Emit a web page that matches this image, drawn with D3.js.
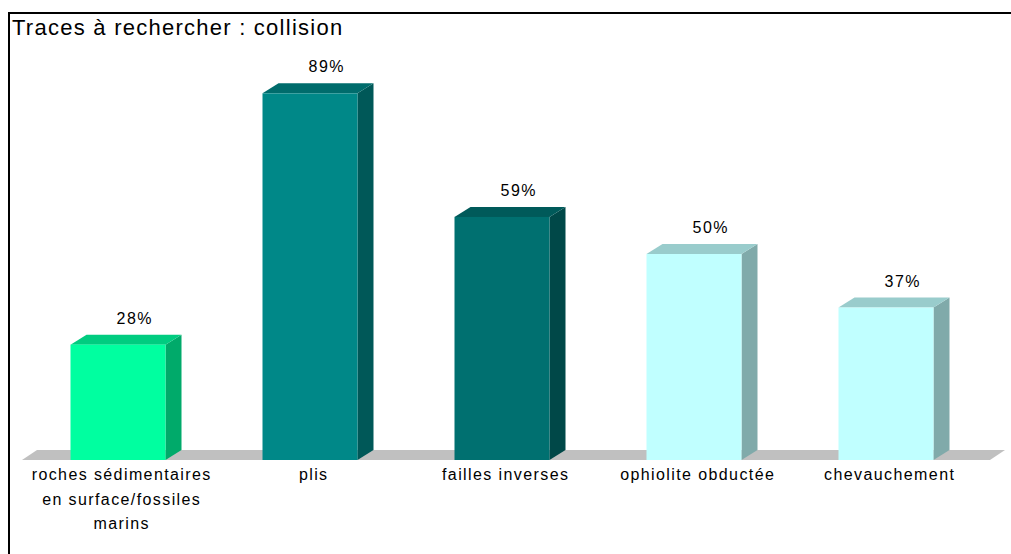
<!DOCTYPE html>
<html><head><meta charset="utf-8">
<script src="https://cdn.jsdelivr.net/npm/d3@7"></script>
<style>body{margin:0;background:#fff;} svg{display:block;}</style>
</head><body>
<svg id="chart" width="1011" height="554"></svg>
<script>
const title = "Traces à rechercher : collision";
const categories = [
  ["roches sédimentaires", "en surface/fossiles", "marins"],
  ["plis"],
  ["failles inverses"],
  ["ophiolite obductée"],
  ["chevauchement"]
];
const values = [28, 89, 59, 50, 37];
const valueLabels = ["28%", "89%", "59%", "50%", "37%"];
const frontColors = ["#00ffa0", "#008888", "#007070", "#c0ffff", "#c0ffff"];
const topColors   = ["#00cc80", "#006c6c", "#005a5a", "#99cccc", "#99cccc"];
const sideColors  = ["#00aa6a", "#005858", "#004848", "#80aaaa", "#80aaaa"];

const svg = d3.select("#chart");
const font = "Arial, 'Liberation Sans', sans-serif";

const x = d3.scaleBand().domain(d3.range(values.length)).range([22, 982]).paddingInner(0).paddingOuter(0);
const y = d3.scaleLinear().domain([0, 100]).range([460, 48]);
const barW = 95, dx = 16, dy = 10;
const ls = 1.4;

// frame
svg.append("rect").attr("x", 9).attr("y", 13).attr("width", 1100).attr("height", 700)
  .attr("fill", "none").attr("stroke", "#000").attr("stroke-width", 2);

svg.append("text").attr("x", 12).attr("y", 35).attr("font-family", font).attr("font-size", 22)
  .attr("letter-spacing", 1.25).attr("fill", "#000").text(title);

// floor
const fy = y(0);
svg.append("path")
  .attr("d", `M22,${fy} L990,${fy} L1005,${fy - dy} L${22 + 15},${fy - dy} Z`)
  .attr("fill", "#c0c0c0");

const g = svg.append("g").selectAll("g").data(values).join("g");
g.each(function(v, i) {
  const s = d3.select(this);
  const cx = x(i) + x.bandwidth() / 2;
  const x0 = cx - barW / 2, x1 = cx + barW / 2;
  const yt = y(v), yb = y(0);
  s.append("path").attr("d", `M${x1},${yt} L${x1 + dx},${yt - dy} L${x1 + dx},${yb - dy} L${x1},${yb} Z`)
    .attr("fill", sideColors[i]);
  s.append("path").attr("d", `M${x0},${yt} L${x0 + dx},${yt - dy} L${x1 + dx},${yt - dy} L${x1},${yt} Z`)
    .attr("fill", topColors[i]);
  s.append("rect").attr("x", x0).attr("y", yt).attr("width", barW).attr("height", yb - yt)
    .attr("fill", frontColors[i]);
  s.append("text").attr("x", cx + dx + ls / 2).attr("y", yt - dy - 11).attr("text-anchor", "middle")
    .attr("font-family", font).attr("font-size", 16).attr("letter-spacing", ls)
    .attr("fill", "#000").text(valueLabels[i]);
  const t = s.append("text").attr("text-anchor", "middle").attr("font-family", font)
    .attr("font-size", 16).attr("letter-spacing", ls).attr("fill", "#000");
  categories[i].forEach((line, k) => {
    t.append("tspan").attr("x", cx + 3 + ls / 2).attr("y", 480 + k * 24.5).text(line);
  });
});
</script>
</body></html>
